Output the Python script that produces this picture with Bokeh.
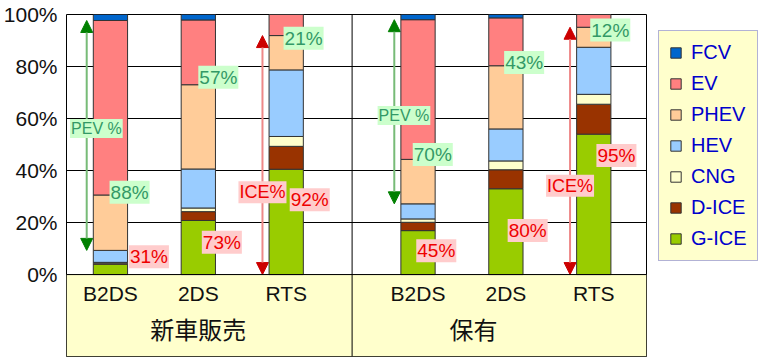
from bokeh.plotting import figure
from bokeh.models import (Range1d, FixedTicker, PrintfTickFormatter, BoxAnnotation, Span,
                          Legend, LegendItem, Arrow, NormalHead, ColumnDataSource)
from bokeh.core.properties import value
from bokeh.embed import file_html
from bokeh.resources import INLINE

# ---------------- data ----------------
groups = ["新車販売", "保有"]
scenarios = ["B2DS", "2DS", "RTS"]
series = ["G-ICE", "D-ICE", "CNG", "HEV", "PHEV", "EV", "FCV"]
# order: 新車販売 B2DS, 2DS, RTS, 保有 B2DS, 2DS, RTS  (share, %)
g_ice = [4.0, 20.8, 40.5, 16.9, 33.0, 54.0]
d_ice = [0.4, 3.4, 8.8, 3.2, 7.3, 11.5]
cng = [0.3, 1.4, 3.8, 1.3, 3.4, 3.8]
hev = [4.6, 15.0, 25.6, 5.8, 12.3, 18.1]
phev = [21.3, 32.4, 13.2, 17.1, 24.3, 7.7]
ev = [67.1, 24.9, 8.1, 53.7, 18.4, 4.9]
fcv = [2.3, 2.1, 0.0, 2.0, 1.3, 0.0]
pev_pct = ["88%", "57%", "21%", "70%", "43%", "12%"]
ice_pct = ["31%", "73%", "92%", "45%", "80%", "95%"]
y_ticks = [0, 20, 40, 60, 80, 100]

# ---------------- style / layout ----------------
colors = ["#99CC00", "#993300", "#FFFFCC", "#99CCFF", "#FFCC99", "#FF8080", "#0066CC"]
GROUP_GAP = 0.5
Y_MIN = -31.5
BAR_W = 0.39
ARROW_DX = -0.27
green_dx = [-0.01, 0.0, -0.03, -0.06, -0.02, -0.04]
green_y = [31.7, 75.9, 90.9, 46.2, 81.5, 94.0]
red_dx = [0.21, 0.04, 0.04, -0.02, 0.02, 0.03]
red_y = [6.9, 12.4, 28.8, 9.2, 16.9, 45.8]
pev_label_y = [56.2, 61.2]
ice_label_y = [31.7, 34.2]
group_label_dx = [1.5, 1.13]

n_s = len(scenarios)
xs = [gi * (n_s + GROUP_GAP) + si + 0.5 for gi in range(len(groups)) for si in range(n_s)]
x_end = len(groups) * n_s + GROUP_GAP + 0.1

data = dict(x=xs)
for name, vals in zip(series, [g_ice, d_ice, cng, hev, phev, ev, fcv]):
    data[name] = vals
src = ColumnDataSource(data)

p = figure(frame_width=580, frame_height=342, output_backend="svg", toolbar_location=None,
           x_range=Range1d(0, x_end), y_range=Range1d(Y_MIN, 100),
           x_axis_location=None, min_border_left=57, min_border_right=115,
           min_border_top=14, min_border_bottom=1)
p.outline_line_color = "black"
p.outline_line_width = 1
p.xgrid.visible = False
p.ygrid.ticker = FixedTicker(ticks=y_ticks)
p.ygrid.grid_line_color = "#000000"
p.yaxis.ticker = FixedTicker(ticks=y_ticks)
p.yaxis.formatter = PrintfTickFormatter(format="%d%%")
p.yaxis.major_label_text_font = "Liberation Sans"
p.yaxis.major_label_text_font_size = "21px"
p.yaxis.major_label_text_color = "#111111"
p.yaxis.major_tick_line_color = None
p.yaxis.minor_tick_line_color = None
p.yaxis.axis_line_color = None
p.yaxis.major_label_standoff = 3

# yellow category area
p.add_layout(BoxAnnotation(bottom=Y_MIN, top=0, fill_color="#FFFFCC", fill_alpha=1,
                           line_color=None, level="underlay"))

rends = p.vbar_stack(series, x="x", width=BAR_W, color=colors, source=src,
                     line_color="#333333", line_width=1)

p.add_layout(Span(location=0, dimension="width", line_color="black", line_width=1))
p.add_layout(Span(location=n_s + GROUP_GAP / 2, dimension="height", line_color="black", line_width=1))

# cumulative tops
cum = []
run = [0.0] * len(xs)
for vals in [g_ice, d_ice, cng, hev, phev, ev, fcv]:
    run = [a + b for a, b in zip(run, vals)]
    cum.append(run)

# arrows: PEV (green) on B2DS, ICE (red) on RTS -- drawn beneath the text labels
for gi in range(len(groups)):
    b = gi * n_s
    r = gi * n_s + n_s - 1
    xa = xs[b] + ARROW_DX
    p.add_layout(Arrow(x_start=xa, y_start=cum[3][b], x_end=xa, y_end=cum[5][b],
                       line_color="#77BB77", line_width=2, level="underlay",
                       start=NormalHead(size=12, fill_color="#008000", line_color="#008000"),
                       end=NormalHead(size=12, fill_color="#008000", line_color="#008000")))
    xr = xs[r] + ARROW_DX
    p.add_layout(Arrow(x_start=xr, y_start=0, x_end=xr, y_end=cum[4][r],
                       line_color="#EE8888", line_width=2, level="underlay",
                       start=NormalHead(size=12, fill_color="#CC0000", line_color="#CC0000"),
                       end=NormalHead(size=12, fill_color="#CC0000", line_color="#CC0000")))

for gi in range(len(groups)):
    xa = xs[gi * n_s] + ARROW_DX
    xr = xs[gi * n_s + n_s - 1] + ARROW_DX
    p.text(x=[xa + 0.11], y=[pev_label_y[gi]], text=["PEV %"], text_font=value("Liberation Sans"),
           text_font_size="16px", text_color="#339966", text_align="center", text_baseline="middle",
           background_fill_color="#CCFFCC", padding=1)
    p.text(x=[xr], y=[ice_label_y[gi]], text=["ICE%"], text_font=value("Liberation Sans"),
           text_font_size="18px", text_color="#EE0000", text_align="center", text_baseline="middle",
           background_fill_color="#FFCCCC", padding=1)

p.text(x=[a + d for a, d in zip(xs, green_dx)], y=green_y, text=pev_pct,
       text_font=value("Liberation Sans"), text_font_size="19px", text_color="#339966",
       text_align="left", text_baseline="middle", background_fill_color="#CCFFCC", padding=1)
p.text(x=[a + d for a, d in zip(xs, red_dx)], y=red_y, text=ice_pct,
       text_font=value("Liberation Sans"), text_font_size="19px", text_color="#EE0000",
       text_align="left", text_baseline="middle", background_fill_color="#FFCCCC", padding=1)

# category labels
p.text(x=xs, y=[-7.3] * len(xs), text=scenarios * len(groups), text_font=value("Liberation Sans"),
       text_font_size="21px", text_color="#111111", text_align="center", text_baseline="middle")
p.text(x=[gi * (n_s + GROUP_GAP) + d for gi, d in enumerate(group_label_dx)], y=[-20.8] * len(groups),
       text=groups, text_font=value("Noto Sans CJK JP"), text_font_size="24px",
       text_color="#111111", text_align="center", text_baseline="middle")

legend = Legend(items=[LegendItem(label=n, renderers=[r]) for n, r in reversed(list(zip(series, rends)))],
                location=(12, 95), margin=0, padding=10, spacing=8,
                glyph_width=13, glyph_height=13, label_standoff=9, label_height=23,
                label_text_font="Liberation Sans", label_text_font_size="20px",
                label_text_color="#0000CC", background_fill_color="#FFFFCC", background_fill_alpha=1,
                border_line_color="#6666DD", border_line_width=1.5)
p.add_layout(legend, "right")

open("out.html", "w").write(file_html(p, INLINE))
